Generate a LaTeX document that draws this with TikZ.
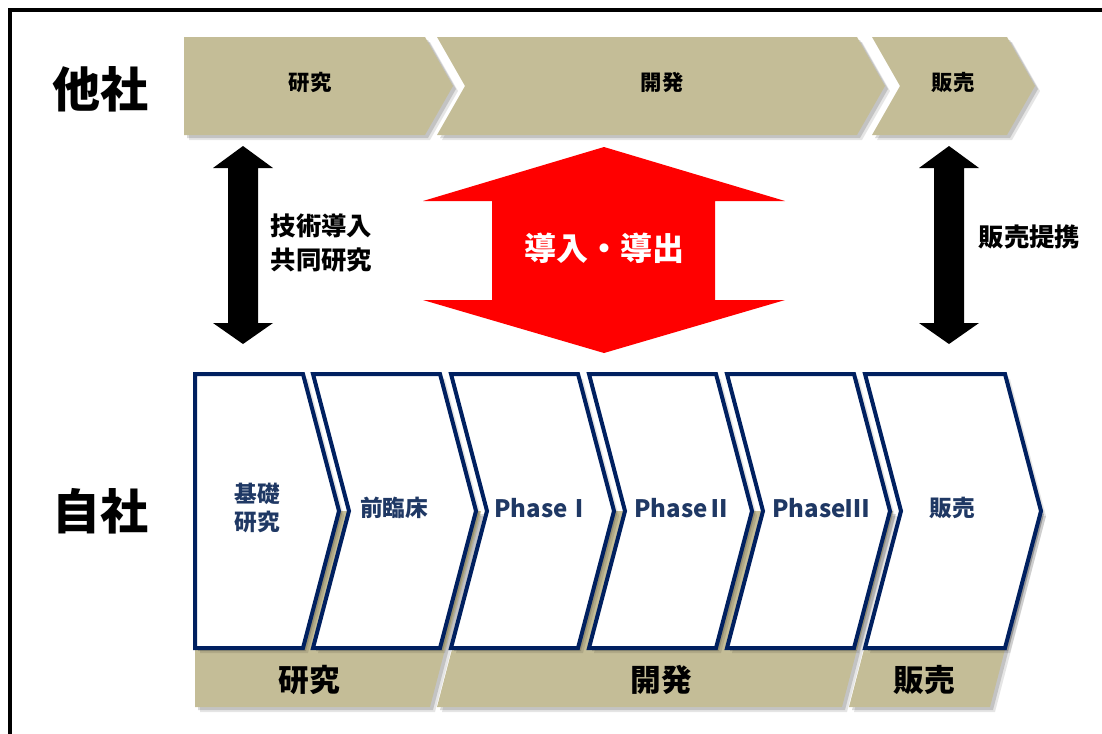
\documentclass[tikz,border=0pt]{standalone}
\usepackage{fontspec}
\setmainfont{Noto Sans CJK JP}
\definecolor{tanfill}{HTML}{C4BD97}
\definecolor{navyline}{HTML}{002060}
\definecolor{navytext}{HTML}{1F3864}
\definecolor{redfill}{HTML}{FF0000}
\newcommand\shadowed[2]{%
  \fill[black,opacity=0.10,shift={(5,5)}] #2;
  \fill[black,opacity=0.15,shift={(3,3)}] #2;
  \path[#1] #2;}
\tikzset{
  tanshape/.style={fill=tanfill},
  boxshape/.style={fill=white,draw=navyline,line width=3pt,line join=miter},
  blackarrow/.style={fill=black},
  redarrow/.style={fill=redfill},
  side/.style={font=\bfseries\fontsize{36}{40}\selectfont},
  toplab/.style={font=\bfseries\fontsize{16}{20}\selectfont},
  botlab/.style={font=\bfseries\fontsize{23}{26}\selectfont},
  boxlab/.style={font=\bfseries\fontsize{17}{21}\selectfont,text=navytext,align=center},
  phaselab/.style={font=\bfseries\fontsize{18}{21}\selectfont,text=navytext},
  midlab/.style={font=\bfseries\fontsize{19}{25}\selectfont,align=left,anchor=west},
  redlab/.style={font=\bfseries\fontsize{24}{28}\selectfont,text=white},
}
\begin{document}
\begin{tikzpicture}[x=0.75pt,y=-0.75pt]
\useasboundingbox (0,0) rectangle (1102,733);
\clip (0,0) rectangle (1102,733);
\draw[line width=2.7pt] (10,10) rectangle (1130,760);

% top row (other companies)
\shadowed{tanshape}{(184,37) -- (425,37) -- (453,86) -- (425,135) -- (184,135) -- cycle}
\shadowed{tanshape}{(437,37) -- (857,37) -- (885,86) -- (857,135) -- (437,135) -- (465,86) -- cycle}
\shadowed{tanshape}{(872,37) -- (1007,37) -- (1035,86) -- (1007,135) -- (872,135) -- (900,86) -- cycle}
\node[toplab] (tken) at (310,82) {研究};
\node[toplab] (tkai) at (662,82) {開発};
\node[toplab] (than) at (953,82) {販売};

\node[side] (tasha) at (100,89) {他社};
\node[side] (jisha) at (100,511) {自社};

% black double arrows
\fill[blackarrow] (243,146) -- (273,168) -- (258,168) -- (258,323) -- (273,323) -- (243,344)
  -- (213,323) -- (228,323) -- (228,168) -- (213,168) -- cycle;
\fill[blackarrow] (949,146) -- (979,168) -- (964,168) -- (964,323) -- (979,323) -- (949,344)
  -- (919,323) -- (934,323) -- (934,168) -- (919,168) -- cycle;
\node[midlab] (gijutsu) at (266,243) {技術導入\\共同研究};
\node[midlab] (hanbai) at (974,237) {販売提携};

% red double arrow
\fill[redarrow] (604,147) -- (785,201) -- (715,201) -- (715,300) -- (785,300) -- (604,353)
  -- (423,300) -- (492,300) -- (492,201) -- (423,201) -- cycle;
\node[redlab] (dounyu) at (604,248) {導入・導出};

% bottom bars
\shadowed{tanshape}{(195,511) -- (481,511) -- (430,707) -- (195,707) -- cycle}
\shadowed{tanshape}{(488,511) -- (893,511) -- (842,707) -- (437,707) -- cycle}
\shadowed{tanshape}{(900,511) -- (1041,511) -- (990,707) -- (849,707) -- cycle}
\node[botlab] (bken) at (309,680) {研究};
\node[botlab] (bkai) at (661,680) {開発};
\node[botlab] (bhan) at (924,680) {販売};

% own company chevrons
\shadowed{boxshape}{(195,374) -- (303,374) -- (339,511) -- (303,648) -- (195,648) -- cycle}
\shadowed{boxshape}{(313,374) -- (440,374) -- (476,511) -- (440,648) -- (313,648) -- (349,511) -- cycle}
\shadowed{boxshape}{(451,374) -- (578,374) -- (614,511) -- (578,648) -- (451,648) -- (487,511) -- cycle}
\shadowed{boxshape}{(589,374) -- (716,374) -- (752,511) -- (716,648) -- (589,648) -- (625,511) -- cycle}
\shadowed{boxshape}{(727,374) -- (854,374) -- (890,511) -- (854,648) -- (727,648) -- (763,511) -- cycle}
\shadowed{boxshape}{(865,374) -- (1005,374) -- (1041,511) -- (1005,648) -- (865,648) -- (901,511) -- cycle}
\node[boxlab] (kiso) at (257,508) {基礎\\研究};
\node[boxlab] (zen) at (394,508) {前臨床};
\node[phaselab] (p1) at (543,508) {PhaseⅠ};
\node[phaselab] (p2) at (683,508) {PhaseⅡ};
\node[phaselab] (p3) at (821,508) {PhaseⅢ};
\node[boxlab] (han) at (952,508) {販売};
\end{tikzpicture}
\end{document}
